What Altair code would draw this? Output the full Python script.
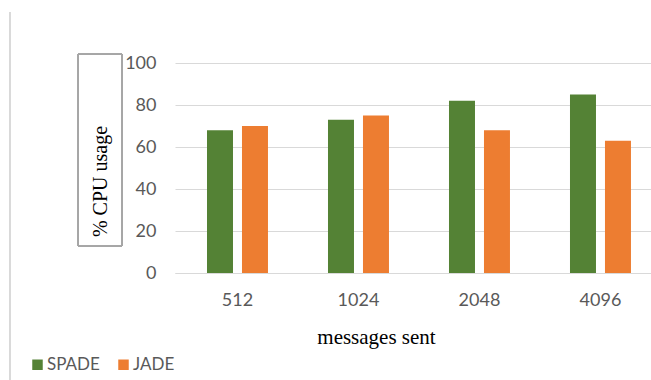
import altair as alt
import pandas as pd

categories = ["512", "1024", "2048", "4096"]
series = ["SPADE", "JADE"]
spade = [68, 73, 82, 85]
jade = [70, 75, 68, 63]
y_ticks = [0, 20, 40, 60, 80, 100]
colors = ["#548235", "#ED7D31"]

rows = []
for c, s, j in zip(categories, spade, jade):
    rows.append({"messages": c, "series": "SPADE", "cpu": s})
    rows.append({"messages": c, "series": "JADE", "cpu": j})
df = pd.DataFrame(rows)

LABEL_FONT = "Lato"
TITLE_FONT = "Liberation Serif"

bars = alt.Chart(df).mark_bar().encode(
    x=alt.X(
        "messages:N",
        sort=categories,
        scale=alt.Scale(paddingInner=0.496, paddingOuter=0.215, align=0.615),
        axis=alt.Axis(
            title="messages sent",
            labelAngle=0,
            labelFont=LABEL_FONT,
            labelFontSize=18,
            labelColor="#595959",
            labelPadding=18,
            ticks=False,
            domainColor="#d9d9d9",
            titleFont=TITLE_FONT,
            titleFontSize=21,
            titleFontWeight="normal",
            titleColor="#000000",
            titleX=201,
            titleY=64,
            titleAlign="center",
            titleBaseline="middle",
        ),
    ),
    xOffset=alt.XOffset(
        "series:N", sort=series, scale=alt.Scale(paddingInner=0.257, paddingOuter=0)
    ),
    y=alt.Y(
        "cpu:Q",
        scale=alt.Scale(domain=[0, 100]),
        axis=alt.Axis(
            values=y_ticks,
            title="% CPU usage",
            labelFont=LABEL_FONT,
            labelFontSize=18,
            labelColor="#595959",
            labelPadding=19,
            ticks=False,
            domain=False,
            gridColor="#d9d9d9",
            titleFont=TITLE_FONT,
            titleFontSize=20,
            titleFontWeight="normal",
            titleColor="#000000",
            titleAngle=270,
            titleX=-75,
            titleY=118,
            titleAlign="center",
            titleBaseline="middle",
        ),
    ),
    color=alt.Color(
        "series:N",
        sort=series,
        scale=alt.Scale(domain=series, range=colors),
        legend=alt.Legend(
            title=None,
            orient="none",
            direction="horizontal",
            legendX=-146,
            legendY=293,
            symbolType="square",
            symbolSize=110,
            symbolStrokeWidth=0,
            labelFont=LABEL_FONT,
            labelFontSize=17,
            labelColor="#595959",
            labelOffset=1,
            columnPadding=15,
        ),
    ),
)

box = alt.Chart(df).mark_rect(fill=None, stroke="#a6a6a6", strokeWidth=1).encode(
    x=alt.value(-97), x2=alt.value(-53), y=alt.value(-9), y2=alt.value(183)
)

border = alt.Chart(df).mark_rule(color="#d9d9d9", strokeWidth=1).encode(
    x=alt.value(-165), y=alt.value(-51), y2=alt.value(317)
)

chart = (
    alt.layer(bars, box, border)
    .properties(
        width=476,
        height=210,
        autosize=alt.AutoSizeParams(type="none"),
        padding={"left": 175, "top": 63, "right": 0, "bottom": 107},
        background="white",
    )
    .configure_view(stroke=None)
)

chart.save("out.html", embed_options={"renderer": "svg", "actions": False})
